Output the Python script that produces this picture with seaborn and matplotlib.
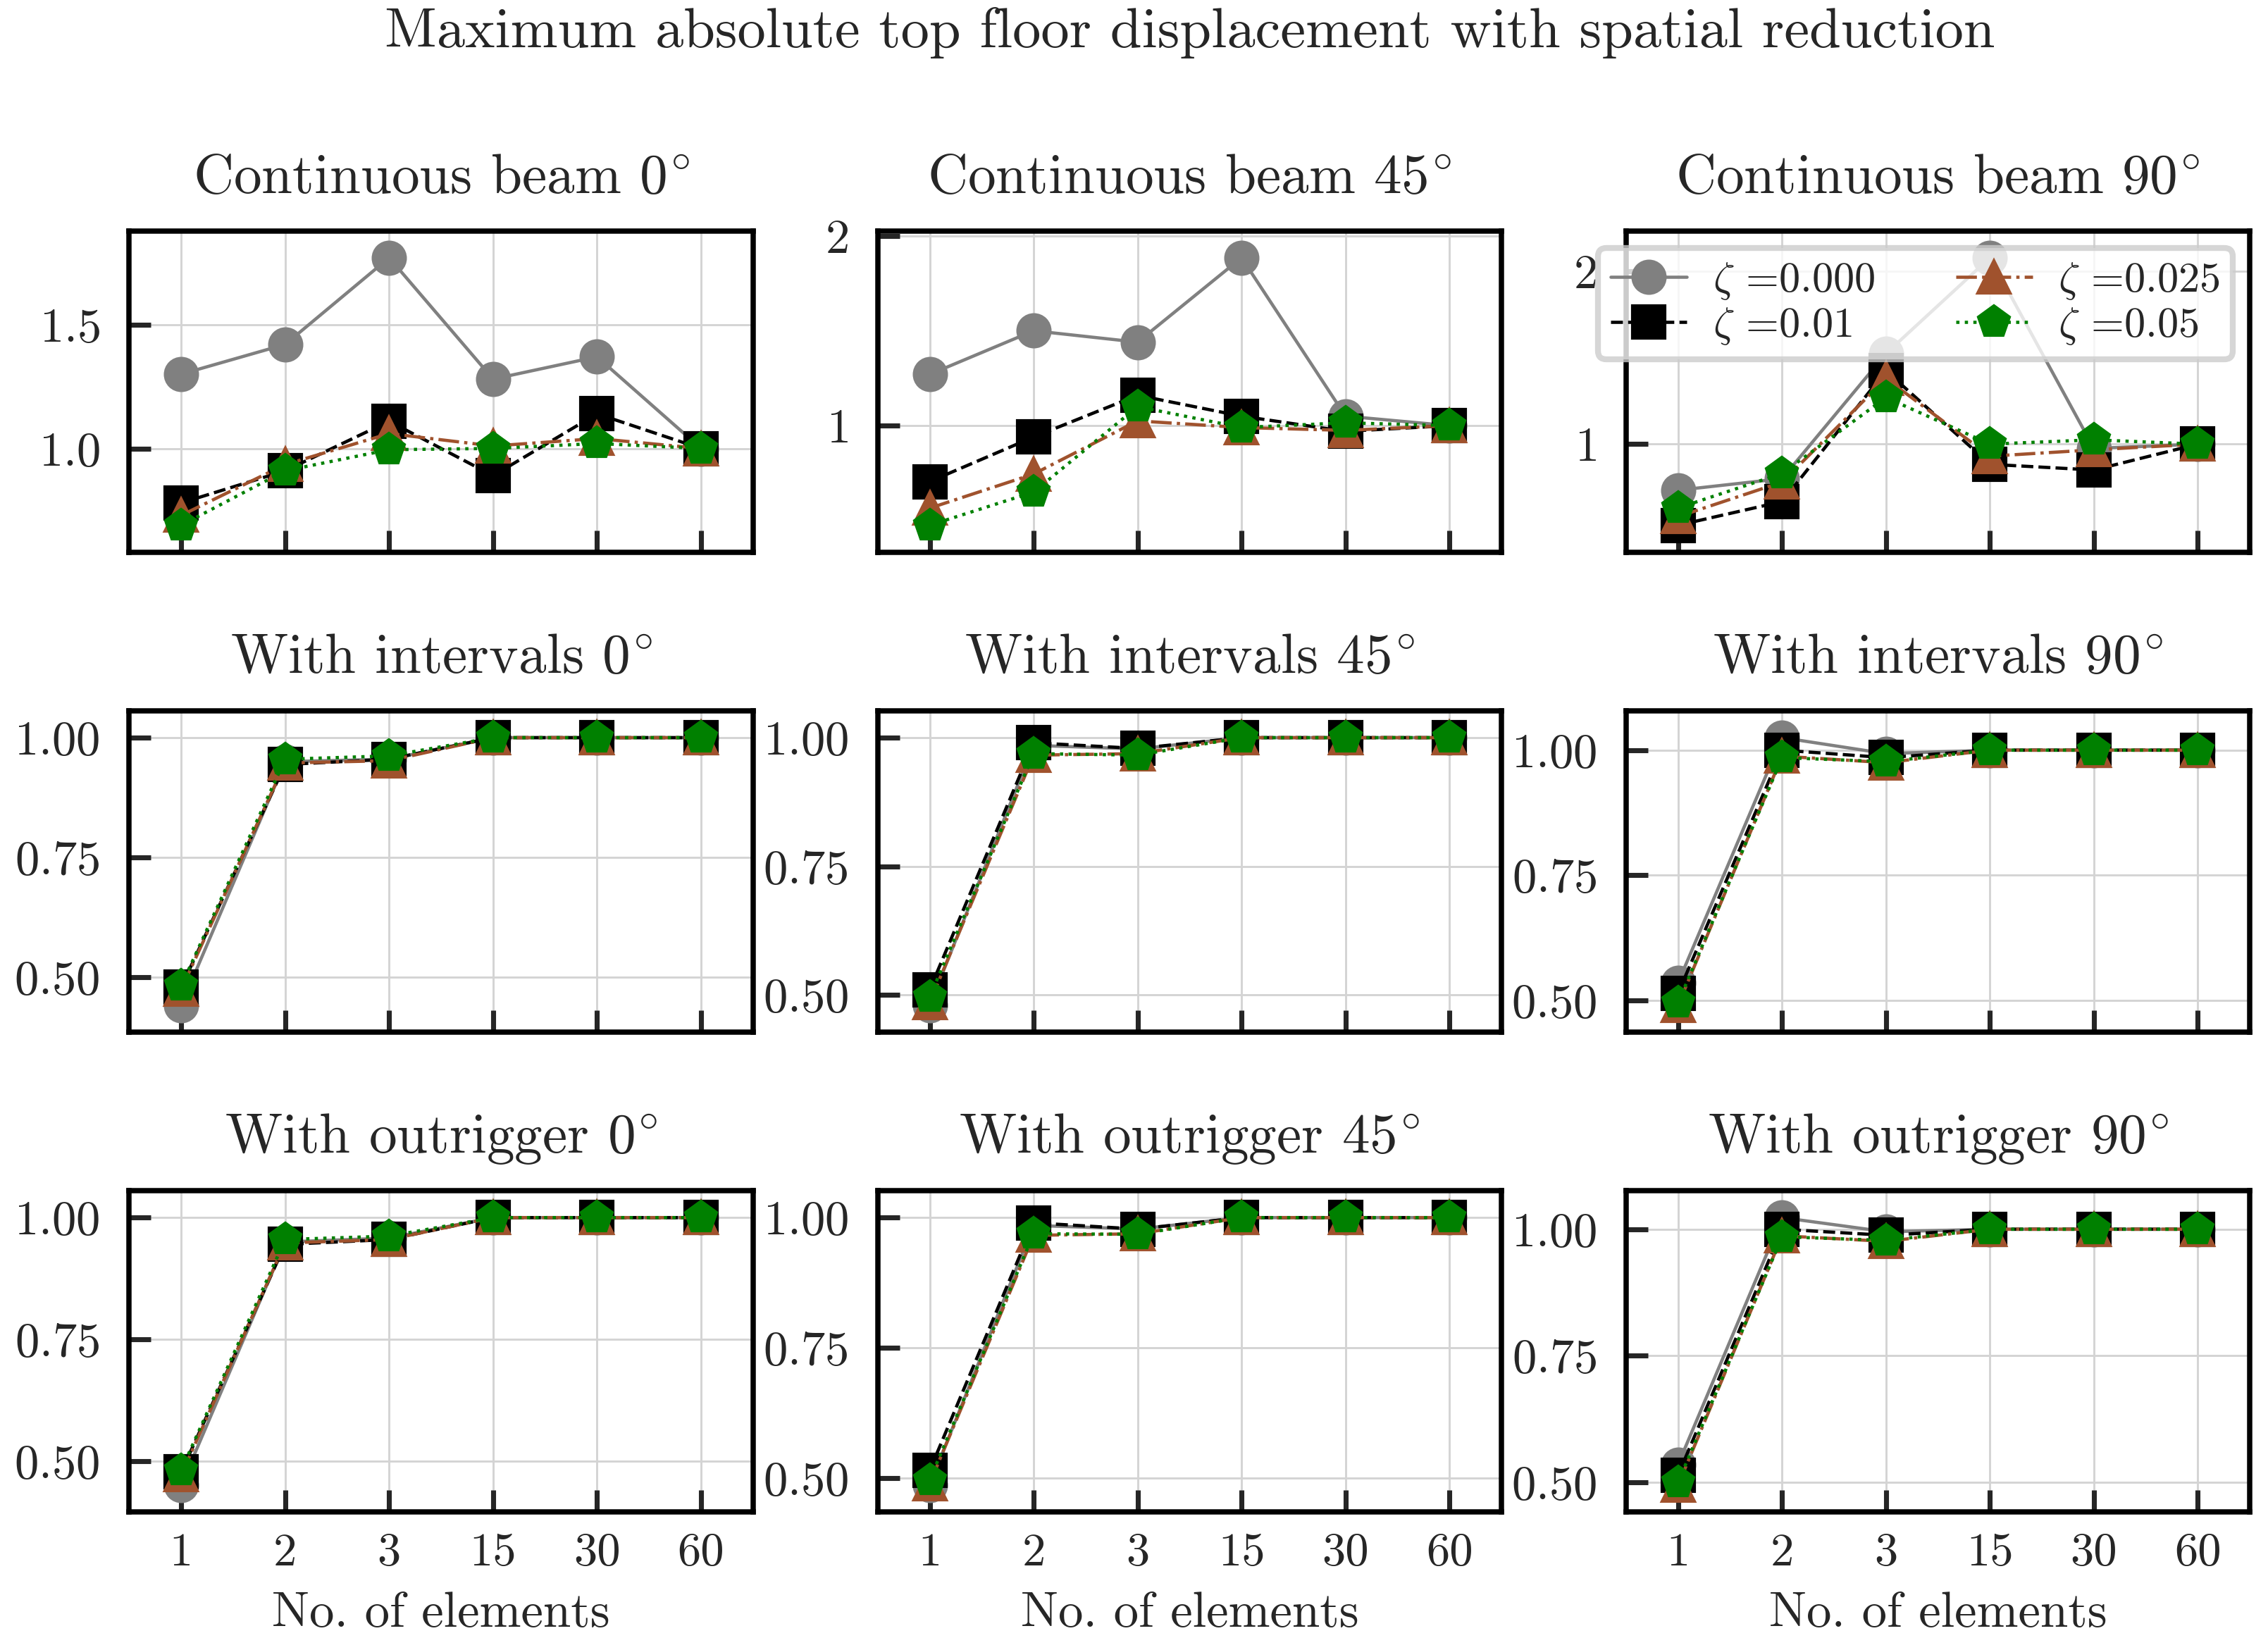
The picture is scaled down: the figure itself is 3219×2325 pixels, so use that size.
"""normalised top floor displacement vs number of elements, 3x3 grid"""
import matplotlib.pyplot as plt
import seaborn as sns
from matplotlib.ticker import MaxNLocator

elements = ["1", "2", "3", "15", "30", "60"]
zeta_labels = [r"$\zeta$ =0.000", r"$\zeta$ =0.01", r"$\zeta$ =0.025", r"$\zeta$ =0.05"]

# each panel: one list per zeta (0.000, 0.01, 0.025, 0.05)
beam_0 = [
    [1.30, 1.42, 1.77, 1.28, 1.37, 1.00],
    [0.78, 0.91, 1.11, 0.89, 1.14, 1.00],
    [0.73, 0.935, 1.06, 1.01, 1.04, 1.00],
    [0.69, 0.91, 0.995, 1.00, 1.02, 1.00],
]
beam_45 = [
    [1.27, 1.50, 1.44, 1.885, 1.05, 1.00],
    [0.705, 0.94, 1.16, 1.05, 0.97, 1.00],
    [0.565, 0.745, 1.025, 0.99, 0.975, 1.00],
    [0.475, 0.65, 1.10, 0.99, 1.015, 1.00],
]
beam_90 = [
    [0.733, 0.80, 1.525, 2.08, 0.975, 1.00],
    [0.53, 0.667, 1.425, 0.883, 0.85, 1.00],
    [0.58, 0.78, 1.38, 0.93, 0.967, 1.00],
    [0.63, 0.83, 1.27, 1.00, 1.025, 1.00],
]
intervals_0 = [
    [0.442, 0.95, 0.955, 1.0, 1.0, 1.0],
    [0.48, 0.944, 0.955, 1.0, 1.0, 1.0],
    [0.475, 0.947, 0.952, 1.0, 1.0, 1.0],
    [0.483, 0.955, 0.962, 1.0, 1.0, 1.0],
]
intervals_45 = [
    [0.48, 0.985, 0.978, 1.0, 1.0, 1.0],
    [0.51, 0.99, 0.979, 1.0, 1.0, 1.0],
    [0.485, 0.966, 0.969, 1.0, 1.0, 1.0],
    [0.496, 0.969, 0.966, 1.0, 1.0, 1.0],
]
intervals_90 = [
    [0.535, 1.025, 0.993, 1.0, 1.0, 1.0],
    [0.514, 1.0, 0.985, 1.0, 1.0, 1.0],
    [0.49, 0.988, 0.975, 1.0, 1.0, 1.0],
    [0.495, 0.985, 0.977, 1.0, 1.0, 1.0],
]
outrigger_0 = [
    [0.451, 0.95, 0.958, 1.0, 1.0, 1.0],
    [0.478, 0.945, 0.955, 1.0, 1.0, 1.0],
    [0.472, 0.948, 0.955, 1.0, 1.0, 1.0],
    [0.482, 0.955, 0.962, 1.0, 1.0, 1.0],
]
outrigger_45 = [
    [0.487, 0.985, 0.978, 1.0, 1.0, 1.0],
    [0.515, 0.99, 0.978, 1.0, 1.0, 1.0],
    [0.49, 0.966, 0.969, 1.0, 1.0, 1.0],
    [0.497, 0.969, 0.968, 1.0, 1.0, 1.0],
]
outrigger_90 = [
    [0.535, 1.023, 0.995, 1.0, 1.0, 1.0],
    [0.514, 1.0, 0.988, 1.0, 1.0, 1.0],
    [0.494, 0.987, 0.976, 1.0, 1.0, 1.0],
    [0.50, 0.985, 0.978, 1.0, 1.0, 1.0],
]

panels = [
    [beam_0, beam_45, beam_90],
    [intervals_0, intervals_45, intervals_90],
    [outrigger_0, outrigger_45, outrigger_90],
]
row_names = ["Continuous beam", "With intervals", "With outrigger"]
angles = ["0", "45", "90"]

colors = ["gray", "black", "sienna", "green"]
linestyles = ["-", "--", "-.", ":"]
markers = ["o", "s", "^", "p"]

sns.set_theme(style="ticks")
plt.rcParams.update(
    {
        "font.family": ["cmr10", "DejaVu Serif"],
        "mathtext.fontset": "cm",
        "axes.formatter.use_mathtext": True,
        "axes.unicode_minus": False,
        "axes.edgecolor": "black",
        "axes.linewidth": 1.8,
        "axes.axisbelow": True,
    }
)

fig, axes = plt.subplots(3, 3, figsize=(3219 / 300, 2325 / 300), dpi=300)
fig.subplots_adjust(
    left=0.057, right=0.992, top=0.859, bottom=0.077, wspace=0.2, hspace=0.495
)

for r in range(3):
    for c in range(3):
        ax = axes[r, c]
        for vals, col, ls, mk, lab in zip(
            panels[r][c], colors, linestyles, markers, zeta_labels
        ):
            sns.lineplot(
                x=elements,
                y=vals,
                ax=ax,
                color=col,
                linestyle=ls,
                linewidth=1.1,
                marker=mk,
                markersize=11,
                markeredgecolor=col,
                markeredgewidth=1,
                label=lab,
                legend=False,
            )
        ax.margins(x=0.1, y=0.1)
        ax.yaxis.set_major_locator(MaxNLocator(3, steps=[1, 2.5, 5, 10]))
        ax.grid(True, color="#d4d4d4", linewidth=0.7)
        ax.tick_params(
            axis="x", direction="in", length=7.5, width=1.7, pad=7,
            labelsize=16, top=False, labelbottom=(r == 2),
        )
        ax.tick_params(
            axis="y", direction="in", length=7.5, width=1.7, pad=10,
            labelsize=16.5, right=False,
        )
        for sp in ax.spines.values():
            sp.set_visible(True)
            sp.set_linewidth(1.8)
        ax.set_title(rf"{row_names[r]} ${angles[c]}^{{\!\circ}}$", fontsize=19, pad=13)
        ax.set_ylabel("")
        ax.set_xlabel("No. of elements" if r == 2 else "", fontsize=17, labelpad=6)

leg = axes[0, 2].legend(
    loc="upper right",
    ncol=2,
    fontsize=14.5,
    handlelength=1.8,
    handletextpad=0.6,
    columnspacing=1.9,
    labelspacing=0.1,
    borderpad=0.3,
    borderaxespad=0.4,
    framealpha=0.8,
    fancybox=True,
    frameon=True,
)
leg.get_frame().set_edgecolor("#cccccc")
leg.get_frame().set_linewidth(2)

fig.suptitle(
    "Maximum absolute top floor displacement with spatial reduction",
    x=0.5245, y=0.98, va="center", fontsize=19.3,
)

fig.savefig("out.png", dpi=300)
